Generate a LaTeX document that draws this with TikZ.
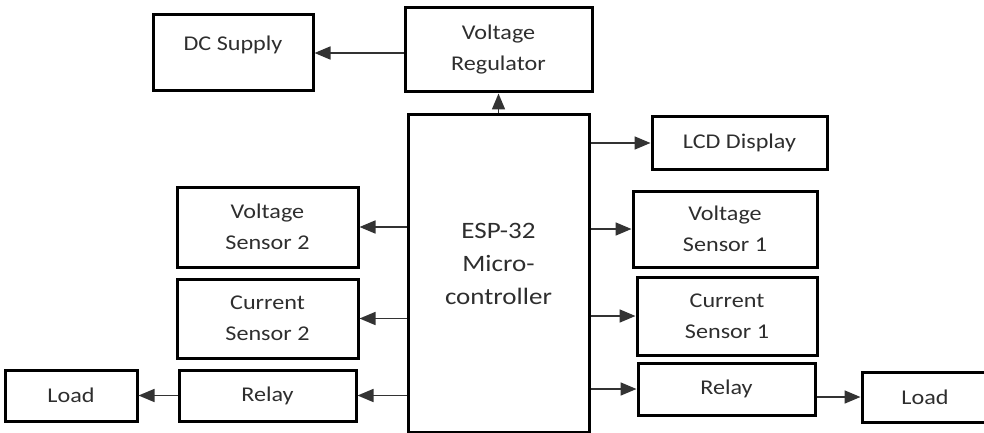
\documentclass[tikz,border=0pt]{standalone}
\usepackage{fontspec}
\newfontfamily\blockfont[FakeStretch=1.15]{Carlito}
\usetikzlibrary{arrows.meta,positioning}
\begin{document}
\begin{tikzpicture}[x=1pt, y=-1pt,
  node distance=39pt,
  box/.style={draw=black, line width=3pt, align=center, text=black!82,
              font=\blockfont\fontsize{21}{31}\selectfont, inner sep=2pt},
  arr/.style={-{Triangle[length=16pt,width=13pt]}, line width=1.7pt, draw=black!80}]
\useasboundingbox (0,0) rectangle (984,433);
\node[box, minimum width=181pt, minimum height=317pt,
      font=\blockfont\fontsize{23.5}{33}\selectfont] (esp) at (498.5,273.5) {ESP-32\\Micro-\\controller\\[-13pt]\mbox{}};
\node[box, minimum width=187pt, minimum height=84pt] (reg) at (498.5,50) {Voltage\\Regulator};
\node[box, minimum width=160pt, minimum height=76pt] (dc) at (233,53) {DC Supply\\[-11pt]\mbox{}};
\node[box, minimum width=175pt, minimum height=52pt] (lcd) at (739.5,143) {LCD Display};
\node[box, minimum width=184pt, minimum height=76pt] (vs1) at (725,229) {Voltage\\Sensor 1};
\node[box, minimum width=180pt, minimum height=78pt] (cs1) at (727,316) {Current\\Sensor 1};
\node[box, minimum width=177pt, minimum height=52pt] (rel1) at (726.5,389) {Relay};
\node[box, minimum width=126pt, minimum height=50pt] (load1) at (925,397) {Load};
\node[box, minimum width=181pt, minimum height=80pt] (vs2) at (267.5,227) {Voltage\\Sensor 2};
\node[box, minimum width=181pt, minimum height=79pt] (cs2) at (267.5,318.5) {Current\\Sensor 2};
\node[box, minimum width=177pt, minimum height=51pt] (rel2) at (267.5,395.5) {Relay};
\node[box, minimum width=132pt, minimum height=51pt, left=of rel2] (load2) {Load};
\draw[arr] (reg.west |- dc.east) -- (dc.east);
\draw[arr] (esp.north) -- (reg.south);
\draw[arr] (esp.east |- lcd.west) -- (lcd.west);
\draw[arr] (esp.east |- vs1.west) -- (vs1.west);
\draw[arr] (esp.east |- cs1.west) -- (cs1.west);
\draw[arr] (esp.east |- rel1.west) -- (rel1.west);
\draw[arr] (rel1.east |- load1.west) -- (load1.west);
\draw[arr] (esp.west |- vs2.east) -- (vs2.east);
\draw[arr] (esp.west |- cs2.east) -- (cs2.east);
\draw[arr] (esp.west |- rel2.east) -- (rel2.east);
\draw[arr] (rel2.west) -- (load2.east);
\end{tikzpicture}
\end{document}
